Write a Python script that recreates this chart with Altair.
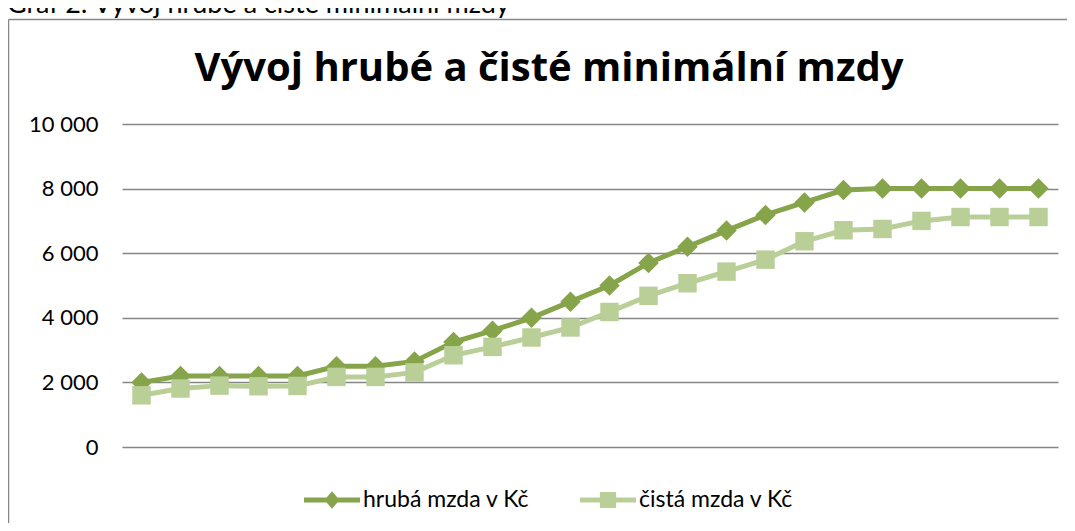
import altair as alt
import pandas as pd

# ---- data ----
periods = [str(i) for i in range(1, 25)]
gross = [2000, 2200, 2200, 2200, 2200, 2500, 2500, 2650, 3250, 3600, 4000, 4500,
         5000, 5700, 6200, 6700, 7185, 7570, 7955, 8000, 8000, 8000, 8000, 8000]
net = [1600, 1810, 1900, 1880, 1890, 2170, 2170, 2310, 2840, 3100, 3390, 3700,
       4180, 4680, 5070, 5430, 5800, 6370, 6710, 6750, 7000, 7120, 7120, 7120]
series_names = ["hrubá mzda v Kč", "čistá mzda v Kč"]
y_ticks = [0, 2000, 4000, 6000, 8000, 10000]
title_text = "Vývoj hrubé a čisté minimální mzdy"
caption_text = "Graf 2: Vývoj hrubé a čisté minimální mzdy"

colors = ["#86A44A", "#B9CF97"]
FONT = "Lato"

df = pd.DataFrame({
    "obdobi": periods * 2,
    "mzda": gross + net,
    "rada": [series_names[0]] * len(gross) + [series_names[1]] * len(net),
})

x = alt.X("obdobi:O", sort=periods, axis=None,
          scale=alt.Scale(type="point", padding=0.5))
y_axis = alt.Axis(values=y_ticks, title=None, grid=True, gridColor="#868686",
                  gridWidth=1.4, domain=False, ticks=False,
                  labelExpr="replace(format(datum.value, ','), ',', ' ')",
                  labelFont=FONT, labelFontSize=22, labelColor="#000000",
                  labelPadding=24)
y = alt.Y("mzda:Q", scale=alt.Scale(domain=[0, 10000], nice=False), axis=y_axis)
color_scale = alt.Scale(domain=series_names, range=colors)

# legend symbols: line with marker (custom paths, unit -1..1)
leg_diamond = ("M-1,-0.09 L1,-0.09 L1,0.09 L-1,0.09 Z "
               "M0,-0.31 L0.27,0 L0,0.31 L-0.27,0 Z")
leg_square = ("M-1,-0.09 L1,-0.09 L1,0.09 L-1,0.09 Z "
              "M-0.29,-0.29 L0.29,-0.29 L0.29,0.29 L-0.29,0.29 Z")

legend = alt.Legend(title=None, orient="none", legendX=182, legendY=348,
                    direction="horizontal", symbolSize=3136,
                    labelFont=FONT, labelFontSize=23, labelColor="#000000",
                    labelOffset=3, columnPadding=50, symbolStrokeWidth=0,
                    symbolOpacity=1, labelLimit=0)

legend_layer = alt.Chart(df).transform_filter("false").mark_point(
    filled=True, opacity=1, strokeWidth=0
).encode(
    x=x, y=y,
    color=alt.Color("rada:N", scale=color_scale, legend=legend),
    shape=alt.Shape("rada:N", scale=alt.Scale(domain=series_names,
                                              range=[leg_diamond, leg_square]),
                    legend=legend),
)

layers = [legend_layer]
for name, shp, sz in [(series_names[0], "diamond", 420), (series_names[1], "square", 340)]:
    base = alt.Chart(df).transform_filter(alt.datum.rada == name)
    layers.append(base.mark_line(strokeWidth=5).encode(
        x=x, y=y, color=alt.Color("rada:N", scale=color_scale, legend=None)))
    layers.append(base.mark_point(filled=True, opacity=1, shape=shp, size=sz,
                                  strokeWidth=0).encode(
        x=x, y=y, color=alt.Color("rada:N", scale=color_scale, legend=None)))

deco = pd.DataFrame({"k": [0]})
frame_left = alt.Chart(deco).mark_rule(color="#868686", strokeWidth=1.5).encode(
    x=alt.value(-113.5), y=alt.value(-104.5), y2=alt.value(420))
frame_top = alt.Chart(deco).mark_rule(color="#868686", strokeWidth=1.5).encode(
    x=alt.value(-113.5), x2=alt.value(960), y=alt.value(-104.5))
caption = alt.Chart(deco).mark_text(
    text=caption_text, align="left", baseline="alphabetic", font=FONT,
    fontSize=27, color="#000000"
).encode(x=alt.value(-115), y=alt.value(-111))
title = alt.Chart(deco).mark_text(
    text=title_text, align="center", baseline="alphabetic", font="Open Sans",
    fontSize=40, fontWeight="bold", color="#000000"
).encode(x=alt.value(427), y=alt.value(-43))

chart = alt.layer(*layers, frame_left, frame_top, caption, title).resolve_scale(
    color="independent", shape="independent"
).properties(
    width=936, height=323,
    padding={"left": 114, "top": 116, "right": 9, "bottom": 76},
    autosize=alt.AutoSizeParams(type="none"),
).configure_view(stroke=None)

chart.save("out.html", embed_options={"renderer": "svg", "actions": False})
